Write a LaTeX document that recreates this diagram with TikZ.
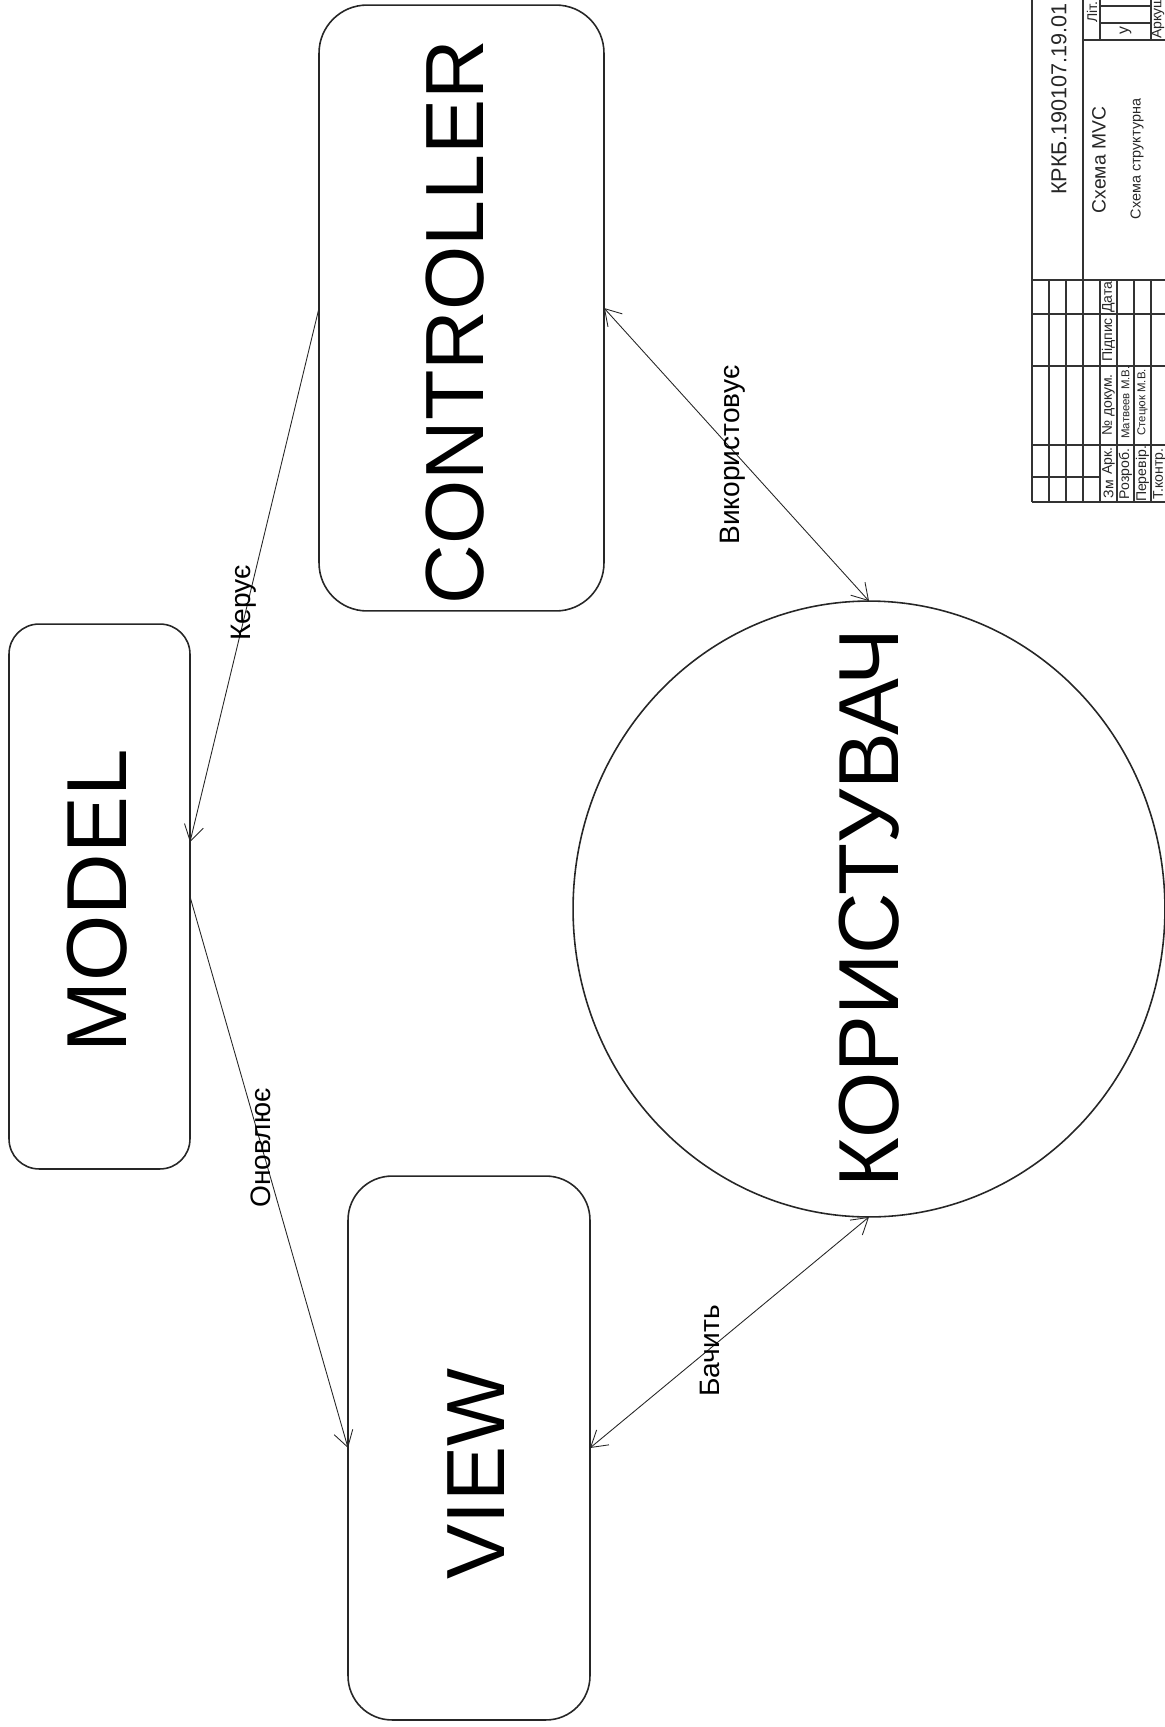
\documentclass[tikz,border=0pt]{standalone}
\usepackage{fontspec}
\setmainfont{Liberation Sans}
\usetikzlibrary{arrows.meta,shapes.geometric}
\begin{document}
\begin{tikzpicture}[x=0.02cm,y=-0.02cm,
  shp/.style={draw=black!85, line width=0.9pt, inner sep=0pt, outer sep=0pt},
  big/.style={font=\fontsize{47}{56}\selectfont, rotate=90, inner sep=0pt},
  bigger/.style={font=\fontsize{48.5}{58}\selectfont, rotate=90, inner sep=0pt},
  lbl/.style={font=\fontsize{16}{19}\selectfont, rotate=90, inner sep=0pt},
  conn/.style={draw=black!85, line width=0.5pt},
  tip/.style={-{Straight Barb[length=9pt,width=11pt]}},
  tips/.style={{Straight Barb[length=9pt,width=11pt]}-{Straight Barb[length=9pt,width=11pt]}},
  tb/.style={draw=black!80, line width=0.9pt},
  tt/.style={font=\fontsize{8}{9}\selectfont, rotate=90, inner sep=0pt, text=black!85},
  tn/.style={font=\fontsize{6.5}{7.5}\selectfont, rotate=90, inner sep=0pt, text=black!85},
]
\useasboundingbox (0,0) rectangle (1164,1727);

% shapes
\node[shp, rectangle, rounded corners=0.96cm, minimum width=5.70cm, minimum height=12.12cm] (ctrl) at (461.5,308) {};
\node[shp, rectangle, rounded corners=0.6cm, minimum width=3.62cm, minimum height=10.90cm] (model) at (99.5,896.5) {};
\node[shp, rectangle, rounded corners=0.88cm, minimum width=4.84cm, minimum height=10.88cm] (view) at (469,1448) {};
\node[shp, ellipse, minimum width=11.84cm, minimum height=12.32cm] (user) at (869,909) {};

% big texts
\node[big] (tctrl) at (455,322) {CONTROLLER};
\node[bigger] (tmodel) at (97,901) {MODEL};
\node[big] (tview) at (476,1474) {VIEW};
\node[bigger] (tuser) at (869,908) {КОРИСТУВАЧ};

% connectors
\draw[conn, tip] (ctrl.west) -- ([yshift=1.09cm]model.east);
\draw[conn, tip] (model.east) -- (view.west);
\draw[conn, tips] (ctrl.east) -- (user.north);
\draw[conn, tips] (view.east) -- (user.south);

% connector labels
\node[lbl] (l1) at (244,603) {Керує};
\node[lbl] (l2) at (261,1148) {Оновлює};
\node[lbl] (l3) at (733,455) {Використовує};
\node[lbl] (l4) at (710,1351) {Бачить};

% title block
\draw[tb] (1032,-5) -- (1032,502);
\draw[tb] (1083,-5) -- (1083,502);
\draw[tb] (1032,502) -- (1170,502);
\draw[tb] (1032,280) -- (1170,280);
\draw[tb] (1083,40) -- (1170,40);
\foreach \yy in {314,366,445} \draw[tb] (1032,\yy) -- (1170,\yy);
\draw[tb] (1032,477) -- (1100,477);
\foreach \xx in {1049,1066,1100,1117,1134,1151} \draw[tb] (\xx,280) -- (\xx,502);
\draw[tb] (1100,-5) -- (1100,40);
\draw[tb] (1151,-5) -- (1151,40);
\draw[tb] (1100,23) -- (1151,23);
\draw[tb] (1100,6) -- (1151,6);

\node[font=\fontsize{12.3}{14}\selectfont, rotate=90, inner sep=0pt, text=black!85] (tcode) at (1059,99) {КРКБ.190107.19.01};
\node[font=\fontsize{11}{13}\selectfont, rotate=90, inner sep=0pt, text=black!85] (tname) at (1099,160) {Схема MVC};
\node[font=\fontsize{8.2}{10}\selectfont, rotate=90, inner sep=0pt, text=black!85] (ttype) at (1137,159) {Схема структурна};

\node[tt] (h1) at (1108.5,489) {Зм};
\node[tt] (h2) at (1108.5,461) {Арк.};
\node[tt] (h3) at (1108.5,405) {№ докум.};
\node[tt] (h4) at (1108.5,340) {Підпис};
\node[tt] (h5) at (1108.5,297) {Дата};
\node[tt] (r1) at (1125.5,474) {Розроб.};
\node[tn, anchor=west] (r1n) at (1125.5,439) {Матвеев М.В.};
\node[tt] (r2) at (1142.5,474) {Перевір.};
\node[tn, anchor=west] (r2n) at (1142.5,436) {Стецюк М.В.};
\node[tt] (r3) at (1159.5,474) {Т.контр.};
\node[tt] (lit) at (1092,12) {Літ.};
\node[font=\fontsize{9}{10}\selectfont, rotate=90, inner sep=0pt, text=black!85] (litu) at (1125.5,31) {у};
\node[tt, anchor=west] (ark) at (1158,39) {Аркуш};
\end{tikzpicture}
\end{document}
